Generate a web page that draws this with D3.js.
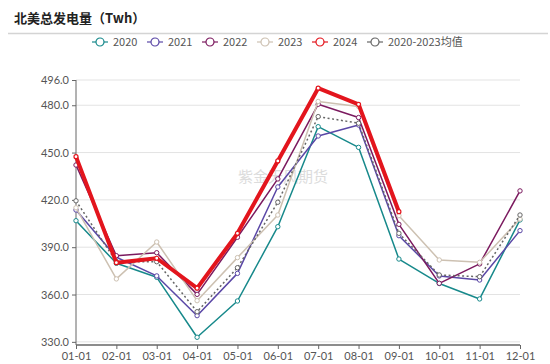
<!DOCTYPE html>
<html><head><meta charset="utf-8">
<script src="https://cdn.jsdelivr.net/npm/d3@7"></script>
<style>
body{margin:0;background:#fff;}
svg{display:block;font-family:"Noto Sans CJK SC","Noto Sans",sans-serif;}
</style></head>
<body><svg id="c" width="550" height="364"></svg>
<script>
const months = ["01-01","02-01","03-01","04-01","05-01","06-01","07-01","08-01","09-01","10-01","11-01","12-01"];
const yTicks = [330,360,390,420,450,480,496];
const seriesNames = ["2020","2021","2022","2023","2024","2020-2023均值"];
const v2020 = [406.8,379.8,370.9,332.9,355.9,403.0,466.4,453.3,382.5,367.0,357.2,407.3];
const v2021 = [413.6,383.6,371.8,346.6,373.4,428.2,460.5,467.5,397.3,371.8,369.2,400.5];
const v2022 = [442.1,384.6,386.5,360.1,396.3,433.3,480.6,472.2,404.5,367.1,379.4,425.7];
const v2023 = [415.0,369.9,393.3,356.1,383.4,410.4,482.4,479.2,410.0,381.9,380.4,407.9];
const v2024 = [447.4,380.2,383.0,364.0,398.8,444.7,490.8,480.6,412.5];
const vAvg  = [419.4,380.8,380.8,349.1,377.0,418.5,472.8,468.6,398.8,372.4,371.3,410.4];
const colors = ["#17898b","#5a47a6","#7b1a5f","#cdc1b2","#e3151d","#666666"];

const series = [
  {name:seriesNames[0], vals:v2020, color:colors[0], w:1.5},
  {name:seriesNames[1], vals:v2021, color:colors[1], w:1.5},
  {name:seriesNames[2], vals:v2022, color:colors[2], w:1.5},
  {name:seriesNames[3], vals:v2023, color:colors[3], w:1.5},
  {name:seriesNames[5], vals:vAvg,  color:colors[5], w:1.5, dash:"2,2.5"},
  {name:seriesNames[4], vals:v2024, color:colors[4], w:4}
];

const svg = d3.select("#c");
// title
svg.append("text").attr("x",14).attr("y",23).attr("font-size",13).attr("font-weight","bold")
  .attr("fill","#222").text("北美总发电量（Twh）");
svg.append("line").attr("x1",8).attr("x2",548).attr("y1",33.5).attr("y2",33.5)
  .attr("stroke","#d4d4d4").attr("stroke-width",1.5);

// legend
const legendX = [113,168,223,278,333,388];
const legOrder = [0,1,2,3,4,5];
legOrder.forEach((i,k)=>{
  const g = svg.append("g").attr("transform",`translate(${legendX[k]},42)`);
  const c = colors[i];
  g.append("line").attr("x1",-21).attr("x2",-5).attr("y1",0).attr("y2",0).attr("stroke",c).attr("stroke-width",1.2);
  g.append("circle").attr("cx",-13).attr("cy",0).attr("r",4).attr("fill","#fff").attr("stroke",c).attr("stroke-width",1.2);
  g.append("text").attr("x",0).attr("y",4).attr("font-size",11).attr("fill","#555").text(seriesNames[i]);
});

const x = d3.scalePoint().domain(months).range([76,520]);
const y = d3.scaleLinear().domain([328,496]).range([345,80]);

// gridlines
svg.append("g").selectAll("line").data(yTicks).join("line")
  .attr("x1",76).attr("x2",520).attr("y1",d=>y(d)).attr("y2",d=>y(d))
  .attr("stroke","#e3e3e3").attr("stroke-width",1);

// watermark
svg.append("text").attr("x",283).attr("y",182).attr("text-anchor","middle")
  .attr("font-size",15).attr("fill","#dcdcdc").text("紫金天风期货");

// y axis
const ya = svg.append("g").attr("transform","translate(76,0)")
  .call(d3.axisLeft(y).tickValues(yTicks).tickFormat(d3.format(".1f")).tickSize(4).tickPadding(3));
ya.select(".domain").attr("stroke","#666").attr("d","M0,80V345");
ya.selectAll(".tick line").attr("stroke","#666");
ya.selectAll("text").attr("fill","#555").attr("font-size",11).attr("font-family","Lato,'Noto Sans',sans-serif");

// x axis
const xa = svg.append("g").attr("transform","translate(0,345)")
  .call(d3.axisBottom(x).tickSize(4).tickPadding(3));
xa.select(".domain").attr("stroke","#666").attr("stroke-width",1.5).attr("d","M76,0H520");
xa.selectAll(".tick line").attr("stroke","#666");
xa.selectAll("text").attr("fill","#555").attr("font-size",11).attr("font-family","Lato,'Noto Sans',sans-serif");

// lines
const line = d3.line().x((d,i)=>x(months[i])).y(d=>y(d));
series.forEach(s=>{
  const g = svg.append("g");
  g.append("path").datum(s.vals).attr("d",line).attr("fill","none")
    .attr("stroke",s.color).attr("stroke-width",s.w).attr("stroke-linejoin","round")
    .attr("stroke-dasharray",s.dash||null);
  g.selectAll("circle").data(s.vals).join("circle")
    .attr("cx",(d,i)=>x(months[i])).attr("cy",d=>y(d)).attr("r",s.w>2?2:2.2)
    .attr("fill","#fff").attr("stroke",s.color).attr("stroke-width",s.w>2?1.2:1);
});
</script></body></html>
